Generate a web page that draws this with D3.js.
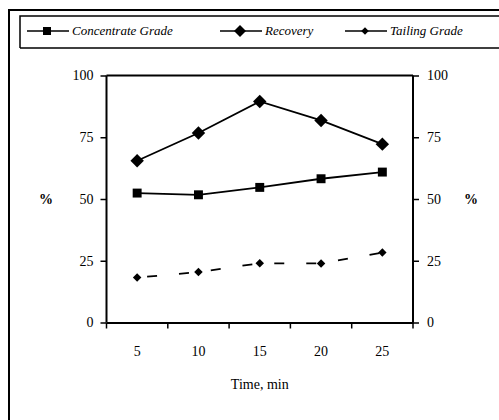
<!DOCTYPE html>
<html>
<head>
<meta charset="utf-8">
<script src="https://cdn.jsdelivr.net/npm/d3@7"></script>
<style>
  body { margin: 0; background: #fff; }
  text { font-family: "Liberation Serif", "DejaVu Serif", serif; fill: #000; }
</style>
</head>
<body>
<script>
var times = ['5', '10', '15', '20', '25'];
var concentrateGrade = [52.4, 51.7, 54.7, 58.2, 60.9];
var recovery = [65.5, 76.7, 89.5, 81.8, 72.2];
var tailingGrade = [18.2, 20.4, 24.0, 23.9, 28.3];
var yTicks = [0, 25, 50, 75, 100];
var seriesNames = ['Concentrate Grade', 'Recovery', 'Tailing Grade'];

var width = 499, height = 420;
var plotLeft = 106.5, plotRight = 413, plotTop = 75.5, plotBottom = 322.5;

// square turned on its corner, same width and height
var roundDiamond = {
  draw: function(context, size) {
    var r = Math.sqrt(size / 2);
    context.moveTo(0, -r);
    context.lineTo(r, 0);
    context.lineTo(0, r);
    context.lineTo(-r, 0);
    context.closePath();
  }
};

var svg = d3.select('body').append('svg')
  .attr('width', width)
  .attr('height', height);

// outer frame and legend box
svg.append('path')
  .attr('d', 'M9,' + height + ' V10 H' + width)
  .attr('fill', 'none').attr('stroke', '#000').attr('stroke-width', 2);
svg.append('path')
  .attr('d', 'M20,48 V16 H' + width + ' M20,48 H' + width)
  .attr('fill', 'none').attr('stroke', '#000').attr('stroke-width', 1.5);

var x = d3.scaleBand().domain(times).range([plotLeft, plotRight]);
var y = d3.scaleLinear().domain([0, 100]).range([plotBottom, plotTop]);

// plot box top line
svg.append('line')
  .attr('x1', plotLeft).attr('x2', plotRight).attr('y1', plotTop).attr('y2', plotTop)
  .attr('stroke', '#000').attr('stroke-width', 2);

var xAxis = svg.append('g')
  .attr('transform', 'translate(0,' + plotBottom + ')')
  .call(d3.axisBottom(x).tickSize(0).tickPadding(24));
xAxis.select('.domain').attr('stroke-width', 2);
xAxis.selectAll('text').attr('font-size', 14).attr('font-family', null);

// x tick marks sit between the categories
var bounds = times.map(function(t) { return x(t); }).concat([plotRight]);
svg.selectAll('.xtick')
  .data(bounds)
  .enter().append('line')
    .attr('x1', function(d) { return d; })
    .attr('x2', function(d) { return d; })
    .attr('y1', plotBottom).attr('y2', plotBottom + 6)
    .attr('stroke', '#000').attr('stroke-width', 1.5);

var yLeft = svg.append('g')
  .attr('transform', 'translate(' + plotLeft + ',0)')
  .call(d3.axisLeft(y).tickValues(yTicks).tickSize(6).tickPadding(7));
var yRight = svg.append('g')
  .attr('transform', 'translate(' + plotRight + ',0)')
  .call(d3.axisRight(y).tickValues(yTicks).tickSize(6).tickPadding(8));
[yLeft, yRight].forEach(function(g) {
  g.select('.domain').attr('stroke-width', 2).attr('d',
    'M0,' + plotTop + 'V' + plotBottom);
  g.selectAll('.tick line').attr('stroke-width', 1.5);
  g.selectAll('text').attr('font-size', 14).attr('font-family', null);
});

svg.append('text').attr('x', 46).attr('y', 204).attr('text-anchor', 'middle')
  .attr('font-size', 14).attr('font-weight', 'bold').text('%');
svg.append('text').attr('x', 471).attr('y', 204).attr('text-anchor', 'middle')
  .attr('font-size', 14).attr('font-weight', 'bold').text('%');
svg.append('text').attr('x', (plotLeft + plotRight) / 2).attr('y', 389)
  .attr('text-anchor', 'middle').attr('font-size', 14).text('Time, min');

function cx(d, i) { return x(times[i]) + x.bandwidth() / 2; }

var line = d3.line()
  .x(function(d, i) { return cx(d, i); })
  .y(function(d) { return y(d); });

var series = [
  {values: concentrateGrade, symbol: d3.symbolSquare, size: 80, dash: null},
  {values: recovery, symbol: roundDiamond, size: 90, dash: null},
  {values: tailingGrade, symbol: roundDiamond, size: 36, dash: '10,22'}
];

series.forEach(function(s) {
  svg.append('path')
    .attr('d', line(s.values))
    .attr('fill', 'none')
    .attr('stroke', '#000')
    .attr('stroke-width', 1.8)
    .attr('stroke-dasharray', s.dash)
    .attr('stroke-dashoffset', s.dash ? -10 : null);
  svg.selectAll(null)
    .data(s.values)
    .enter().append('path')
      .attr('d', d3.symbol().type(s.symbol).size(s.size))
      .attr('transform', function(d, i) {
        return 'translate(' + cx(d, i) + ',' + y(d) + ')';
      })
      .attr('fill', '#000');
});

// legend
var legendX = [27, 220, 345];
var legend = svg.selectAll('.legend')
  .data(series)
  .enter().append('g')
    .attr('class', 'legend')
    .attr('transform', function(d, i) { return 'translate(' + legendX[i] + ',31)'; });
legend.append('line')
  .attr('x1', 0).attr('x2', 42)
  .attr('stroke', '#000').attr('stroke-width', 1.5);
legend.append('path')
  .attr('transform', 'translate(20,0)')
  .attr('d', function(d) { return d3.symbol().type(d.symbol).size(d.size * 0.8)(); })
  .attr('fill', '#000');
legend.append('text')
  .attr('x', 45).attr('y', 4)
  .attr('font-size', 13)
  .attr('font-style', 'italic')
  .text(function(d, i) { return seriesNames[i]; });
</script>
</body>
</html>
